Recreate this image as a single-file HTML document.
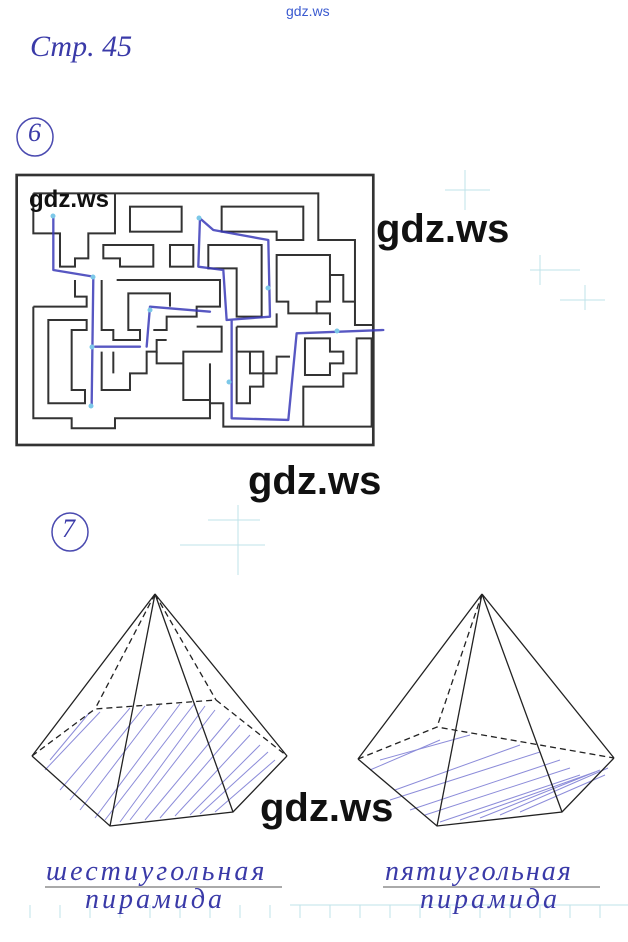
<!DOCTYPE html>
<html><head><meta charset="utf-8"><style>
html,body{margin:0;padding:0;background:#fff;}
body{width:628px;height:942px;position:relative;overflow:hidden;font-family:"Liberation Sans",sans-serif;}
.w{position:absolute;font-weight:bold;color:#111;font-family:"Liberation Sans",sans-serif;}
.h{position:absolute;font-family:"Liberation Serif",serif;font-style:italic;color:#3a3aa8;}
</style></head><body>
<svg width="628" height="942" style="position:absolute;left:0;top:0">
<g stroke="#bfe3ea" stroke-width="1" fill="none">
<path d="M465 170V210M445 190H490M540 255V285M530 270H580M585 285V310M560 300H605"/>
<path d="M238 505V575M180 545H265M208 520H260"/>
<path d="M290 905H628M30 905V918M60 905V918M90 905V918M120 905V918M150 905V918M180 905V918M210 905V918M240 905V918M270 905V918M300 905V918M330 905V918M360 905V918M390 905V918M420 905V918M450 905V918M480 905V918M510 905V918M540 905V918M570 905V918M600 905V918"/>
</g>
<ellipse cx="35" cy="137" rx="18" ry="19" fill="none" stroke="#4a4ab0" stroke-width="1.5"/>
<ellipse cx="70" cy="532" rx="18" ry="19" fill="none" stroke="#4a4ab0" stroke-width="1.5"/>
<g transform="translate(10,170) scale(0.3333)" fill="none" stroke="#333" stroke-width="6">
<rect x="20" y="15" width="1070" height="810" stroke-width="8"/>
<path d="M70,70 H925 V210 H1035 V465 H1090"/>
<path d="M70,70 V190 H150 V290 H195 V265 H235 V190 H315 V70"/>
<rect x="360" y="110" width="155" height="75"/>
<path d="M635,110 H880 V210 H800 V185 H635 Z"/>
<path d="M280,225 H430 V290 H330 V265 H280 Z"/>
<rect x="480" y="225" width="70" height="65"/>
<path d="M595,225 H755 V440 H680 V295 H595 Z"/>
<path d="M800,255 H960 V395 H920 V430 H835 V395 H800 Z"/>
<path d="M320,330 H630 V410 H560 V440 H470 V480 H430"/>
<path d="M275,330 V480 H310 V510 H390 V480 H355 V370 H480 V410"/>
<path d="M70,410 H230 V380 H195 V330"/>
<path d="M70,410 V745 H185 V775 H315 V745 H600 V690 H520 V545 H635 V470 H560"/>
<path d="M115,450 V700 H225 V660 H185 V480 H230 V450 Z"/>
<path d="M275,545 V660 H360 V610 H410 V545 H440 V510 H470"/>
<path d="M680,470 H800 V430 M680,470 V700 H720 V650 H760 V610 H800 V560 H840"/>
<path d="M600,580 V700 H640 V770 H880 V650 H1000 V610 H1040 V505 H1085 V770 H880"/>
<path d="M885,505 V615 H960 V580 H1000 V545 H960 V505 Z"/>
<path d="M680,545 H760 V610 H720 V545"/>
<path d="M960,315 H1000 V395 H1035 M920,430 H960 V465"/>
<path d="M310,545 V610 M440,545 V580 H520"/>
</g>
<g transform="translate(10,170) scale(0.3333)" fill="none" stroke="#3a3ab8" stroke-width="7" stroke-linecap="round" stroke-linejoin="round" opacity="0.85">
<path d="M130,140 V300 L250,320 L245,705"/>
<path d="M255,530 H390 M410,530 L420,410 L600,425"/>
<path d="M570,145 L565,290 L640,300 L650,450 L780,440 L775,210 L610,180 L570,145"/>
<path d="M665,450 V745 L835,750 L860,490 L1120,480"/>
</g>
<g fill="#7cc8e8">
<circle cx="53" cy="216" r="2.5"/><circle cx="93" cy="277" r="2.5"/><circle cx="92" cy="347" r="2.5"/><circle cx="91" cy="406" r="2.5"/><circle cx="150" cy="310" r="2.5"/><circle cx="199" cy="218" r="2.5"/><circle cx="268" cy="288" r="2.5"/><circle cx="229" cy="382" r="2.5"/><circle cx="337" cy="331" r="2.5"/>
</g>
<g fill="none" stroke="#7070d0" stroke-width="1" opacity="0.8">
<path d="M50,760 L90,712 M60,790 L130,708 M80,810 L160,705 M105,820 L195,703 M130,820 L215,710 M160,818 L240,725 M190,815 L260,745 M215,812 L275,760"/>
<path d="M45,770 L100,712 M70,800 L145,706 M95,818 L180,704 M120,822 L205,706 M145,820 L230,718 M175,816 L250,735 M200,814 L268,752"/>
<path d="M380,760 L470,735 M395,790 L520,745 M410,810 L560,760 M440,822 L580,775 M480,818 L600,770 M520,812 L605,775"/>
<path d="M370,770 L440,740 M390,800 L540,752 M425,815 L570,768 M460,820 L595,772 M500,815 L608,768"/>
</g>
<g fill="none" stroke="#222" stroke-width="1.3">
<path d="M32,756 L110,826 L233,812 L287,756"/>
<path d="M155,594 L32,756 M155,594 L110,826 M155,594 L233,812 M155,594 L287,756"/>
<path d="M155,594 L216,700 M155,594 L95,709 M32,756 L95,709 L216,700 L287,756" stroke-dasharray="6,4"/>
</g>
<g fill="none" stroke="#222" stroke-width="1.3">
<path d="M358,759 L437,826 L562,812 L614,758"/>
<path d="M482,594 L358,759 M482,594 L437,826 M482,594 L562,812 M482,594 L614,758"/>
<path d="M482,594 L437,727 M358,759 L437,727 L614,758" stroke-dasharray="6,4"/>
</g>
<g stroke="#555" stroke-width="1"><path d="M45,887H282M383,887H600"/></g>
</svg>
<div style="position:absolute;left:286px;top:3px;font-size:14px;color:#3a5ad0;">gdz.ws</div>
<div class="h" style="left:30px;top:30px;font-size:30px;">Стр. 45</div>
<div class="h" style="left:28px;top:118px;font-size:26px;">6</div>
<div class="h" style="left:62px;top:514px;font-size:26px;">7</div>
<div class="w" style="left:29px;top:186px;font-size:24px;">gdz.ws</div>
<div class="w" style="left:376px;top:207px;font-size:40px;">gdz.ws</div>
<div class="w" style="left:248px;top:459px;font-size:40px;">gdz.ws</div>
<div class="w" style="left:260px;top:786px;font-size:40px;">gdz.ws</div>
<div class="h" style="left:46px;top:856px;font-size:28px;letter-spacing:3px;">шестиугольная</div>
<div class="h" style="left:85px;top:884px;font-size:28px;letter-spacing:3px;">пирамида</div>
<div class="h" style="left:385px;top:856px;font-size:28px;letter-spacing:2px;">пятиугольная</div>
<div class="h" style="left:420px;top:884px;font-size:28px;letter-spacing:3px;">пирамида</div>
</body></html>
